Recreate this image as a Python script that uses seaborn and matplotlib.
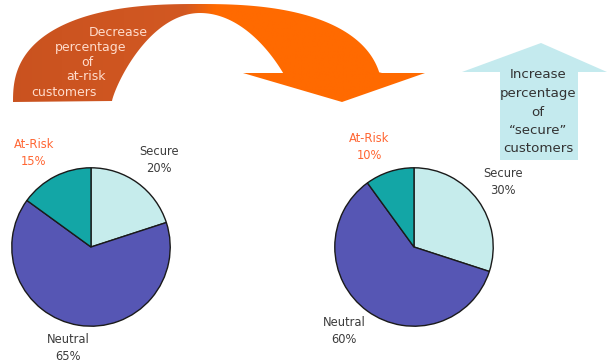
import numpy as np
import matplotlib
matplotlib.use("Agg")
import matplotlib.pyplot as plt
import seaborn as sns
from matplotlib.patches import Polygon
from matplotlib.colors import LinearSegmentedColormap

# data
segments = ["Secure", "Neutral", "At-Risk"]
before = [20, 65, 15]
after = [30, 60, 10]
seg_colors = ["#c6ecec", "#5656b4", "#13a6a6"]
label_colors = ["#3c3c3c", "#3c3c3c", "#ff6633"]

left_text = ["Decrease", "percentage", "of", "at-risk", "customers"]
right_text = ["Increase", "percentage", "of", "\u201csecure\u201d", "customers"]

sns.set_style("white")
plt.rcParams['font.family'] = ['DejaVu Sans']

W, H = 608, 362
fig = plt.figure(figsize=(W / 100, H / 100), dpi=100)


def pie_axes(cx, cy, r):
    # axes placed in pixel coordinates of the figure
    ax = fig.add_axes([(cx - r) / W, (H - cy - r) / H, 2 * r / W, 2 * r / H])
    return ax


def draw_pie(ax, values):
    ax.pie(values, colors=seg_colors, startangle=90, counterclock=False,
           wedgeprops=dict(edgecolor="#1a1a1a", linewidth=1.0))
    ax.set_xlim(-1.01, 1.01)
    ax.set_ylim(-1.01, 1.01)
    ax.set_aspect("equal")
    ax.axis("off")


ax1 = pie_axes(91, 247, 80)
draw_pie(ax1, before)
ax2 = pie_axes(414, 247, 80)
draw_pie(ax2, after)

# overlay in pixel coordinates
ov = fig.add_axes([0, 0, 1, 1], zorder=5)
ov.patch.set_alpha(0)
ov.axis("off")


def arc(cx, cy, a_left, a_right, b, px, py, t0, t1):
    t = np.radians(np.linspace(t0, t1, 120))
    c, s = np.cos(t), np.sin(t)
    a = np.where(c < 0, a_left, a_right)
    x = cx + a * np.sign(c) * np.abs(c) ** (2 / px)
    y = cy - b * np.sign(s) * np.abs(s) ** (2 / py)
    return list(zip(x, y))


# curved orange arrow
outer = arc(198, 102, 185, 185, 98, 2.5, 2.5, 180, 13)
inner = arc(200, 101, 88, 96, 88, 2.0, 1.21, 30, 180)
pts = outer + [(382, 73), (425, 73), (342, 102), (243, 73)] + inner
arrow = Polygon(pts, closed=True, facecolor="none", edgecolor="none")
ov.add_patch(arrow)
cmap = LinearSegmentedColormap.from_list(
    "org", [(0, "#c9521f"), (0.43, "#d25822"), (0.5, "#ff6a00"), (1, "#ff6a00")])
grad = np.linspace(0, 1, 256).reshape(1, -1)
im = ov.imshow(grad, cmap=cmap, extent=(0, 430, 110, 0), aspect="auto", zorder=1)
im.set_clip_path(arrow)
ov.set_xlim(0, W)
ov.set_ylim(H, 0)

lx = [118, 91, 87, 86, 64]
ly = [32, 47, 62, 77, 92]
for s, x, y in zip(left_text, lx, ly):
    ov.text(x, y, s, color="#ffdccc", fontsize=9, ha="center", va="center", zorder=3)

# light cyan up arrow
up = Polygon([(500, 160), (500, 72), (462, 72), (541, 43), (607, 72), (578, 72), (578, 160)],
             closed=True, facecolor="#c4eaee", edgecolor="none", zorder=1)
ov.add_patch(up)
ry = [75, 94, 112, 131, 149]
for s, y in zip(right_text, ry):
    ov.text(538, y, s, color="#333333", fontsize=9.6, ha="center", va="center", zorder=3)

# pie labels
pos_before = [(159, 160), (68, 348), (34, 153)]
pos_after = [(503, 182), (344, 331), (369, 147)]
for vals, pos in [(before, pos_before), (after, pos_after)]:
    for name, v, c, (x, y) in zip(segments, vals, label_colors, pos):
        ov.text(x, y, f"{name}\n{v}%", color=c, fontsize=8.3, ha="center", va="center",
                linespacing=1.4, zorder=3)

fig.savefig("out.png", dpi=100)
